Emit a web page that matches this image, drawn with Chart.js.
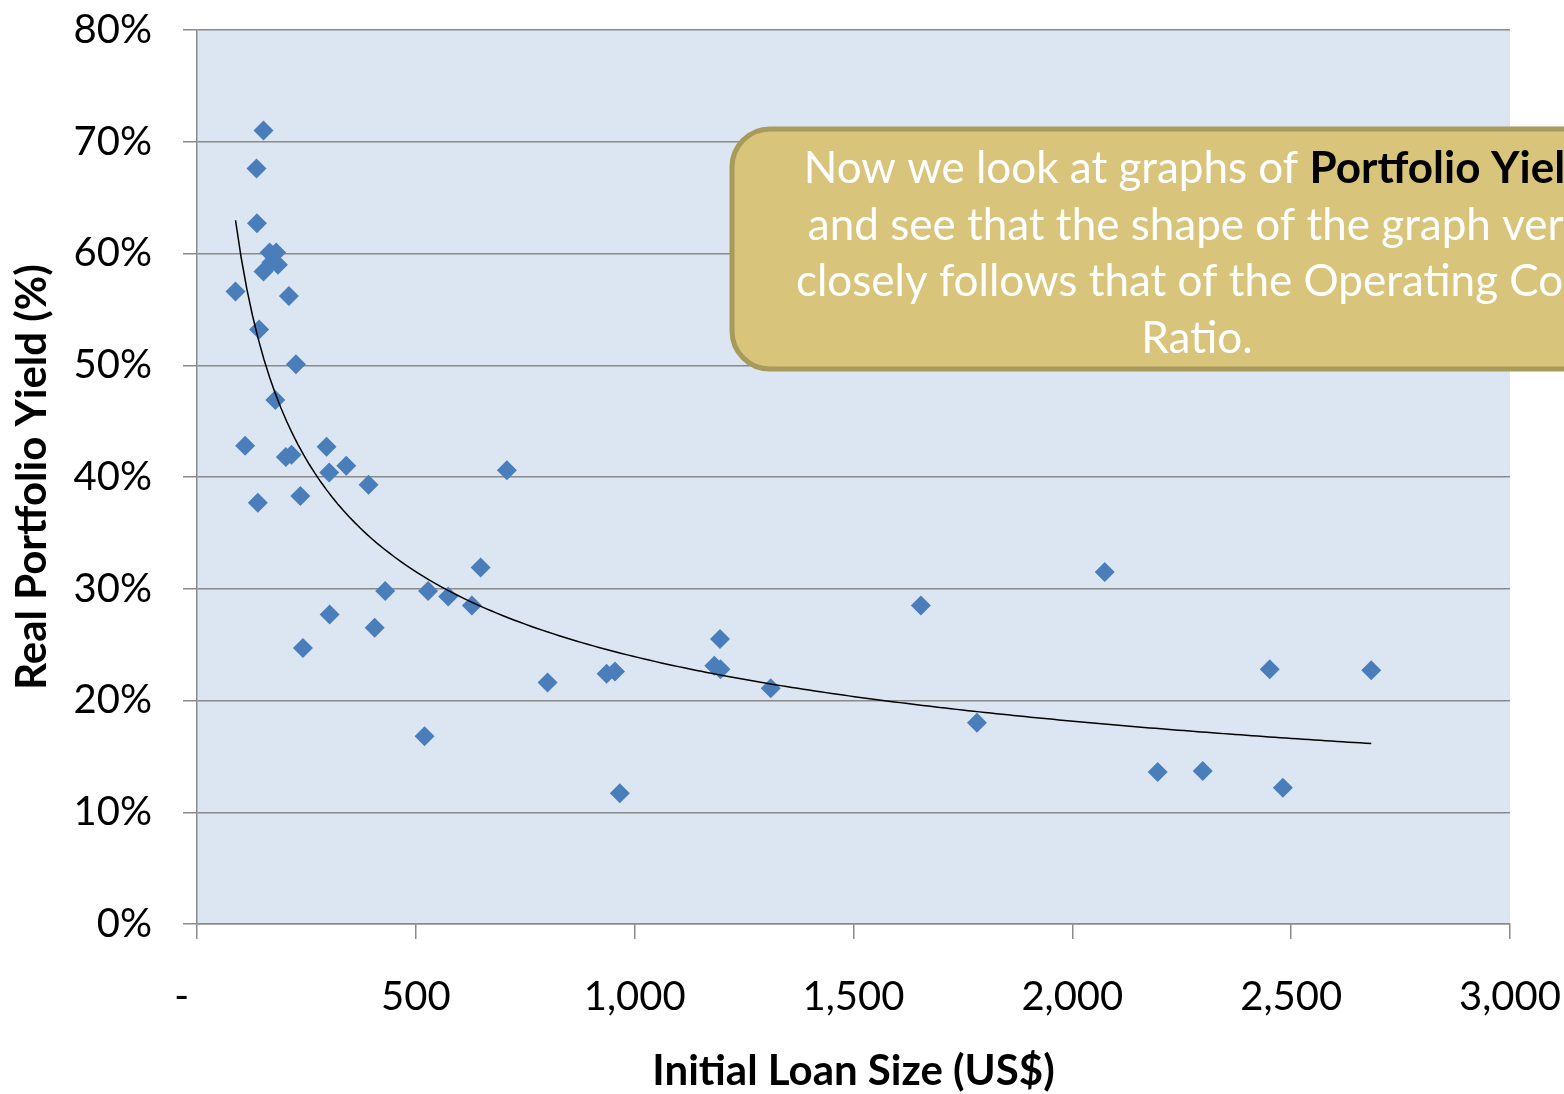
<!DOCTYPE html>
<html>
<head>
<meta charset="utf-8">
<script src="https://cdn.jsdelivr.net/npm/chart.js@4.4.1/dist/chart.umd.min.js"></script>
<style>
  html, body { margin: 0; padding: 0; background: #fff; }
  #wrap { width: 1564px; height: 1094px; }
</style>
</head>
<body>
<div id="wrap"><canvas id="myChart" width="1564" height="1094"></canvas></div>
<script>
// loan size (US$) and real portfolio yield (%)
const loanSize = [152,136,137,166,181,152,185,170,88,210,142,226,179,110,203,216,296,341,302,392,139,236,
                  708,648,430,528,574,628,303,406,242,801,936,955,1195,1182,1196,520,
                  966,1311,1654,1782,2074,2195,2298,2451,2481,2683];
const yieldPct = [71.0,67.6,62.7,60.1,60.1,58.4,59.0,59.2,56.6,56.2,53.2,50.1,46.9,42.8,41.8,42.0,42.7,41.0,40.4,39.3,37.7,38.3,
                  40.6,31.9,29.8,29.8,29.3,28.5,27.7,26.5,24.7,21.6,22.4,22.6,25.5,23.1,22.8,16.8,
                  11.7,21.1,28.5,18.0,31.5,13.6,13.7,22.8,12.2,22.7];
const xTicks = [0,500,1000,1500,2000,2500,3000];
const xTickLabels = ['-   ','500','1,000','1,500','2,000','2,500','3,000'];
const yTickLabels = ['0%','10%','20%','30%','40%','50%','60%','70%','80%'];

const calloutLines = [
  [['Now we look at graphs of ', false], ['Portfolio Yield', true]],
  [['and see that the shape of the graph very', false]],
  [['closely follows that of the Operating Cost', false]],
  [['Ratio.', false]]
];

const points = loanSize.map((x, i) => ({x: x, y: yieldPct[i]}));

// power trendline (least squares on ln-ln, like the spreadsheet one)
let sx = 0, sy = 0, sxx = 0, sxy = 0;
const n = loanSize.length;
loanSize.forEach((x, i) => {
  const lx = Math.log(x), ly = Math.log(yieldPct[i]);
  sx += lx; sy += ly; sxx += lx * lx; sxy += lx * ly;
});
const b = (n * sxy - sx * sy) / (n * sxx - sx * sx);
const a = Math.exp((sy - b * sx) / n);
const xMin = Math.min(...loanSize), xMax = Math.max(...loanSize);
const trend = [];
for (let k = 0; k <= 200; k++) {
  const x = xMin + (xMax - xMin) * k / 200;
  trend.push({x: x, y: a * Math.pow(x, b)});
}

const plotBg = {
  id: 'plotBg',
  beforeDraw(chart) {
    const {ctx, chartArea: c} = chart;
    ctx.save();
    ctx.fillStyle = '#dce6f2';
    ctx.fillRect(c.left, c.top, c.right - c.left, c.bottom - c.top);
    ctx.restore();
  }
};

const callout = {
  id: 'callout',
  afterDraw(chart) {
    const ctx = chart.ctx;
    const x = 732, y = 129, w = 930, h = 240, r = 38;
    ctx.save();
    ctx.beginPath();
    ctx.roundRect(x, y, w, h, r);
    ctx.fillStyle = '#d8c57b';
    ctx.fill();
    ctx.lineWidth = 5;
    ctx.strokeStyle = '#a89a5a';
    ctx.stroke();
    ctx.textBaseline = 'alphabetic';
    const cx = x + w / 2;
    const normal = '44px Lato', bold = 'bold 44px Lato';
    calloutLines.forEach((parts, i) => {
      let total = 0;
      parts.forEach(p => { ctx.font = p[1] ? bold : normal; total += ctx.measureText(p[0]).width; });
      let px = cx - total / 2;
      const by = 183 + i * 56.5;
      parts.forEach(p => {
        ctx.font = p[1] ? bold : normal;
        ctx.fillStyle = p[1] ? '#000' : '#fff';
        ctx.fillText(p[0], px, by);
        px += ctx.measureText(p[0]).width;
      });
    });
    ctx.restore();
  }
};

function noPad(scale) {
  scale.paddingTop = 0;
  scale.paddingBottom = 0;
  scale.paddingLeft = 0;
  scale.paddingRight = 0;
}

const ctx = document.getElementById('myChart').getContext('2d');
const chart = new Chart(ctx, {
  type: 'scatter',
  data: {
    datasets: [{
      data: points,
      pointStyle: 'rectRot',
      pointRadius: 10,
      backgroundColor: '#4a7ebb',
      borderColor: '#4a7ebb',
      borderWidth: 0,
      order: 2
    }, {
      data: trend,
      showLine: true,
      pointRadius: 0,
      borderColor: '#000',
      borderWidth: 1.5,
      fill: false,
      order: 1
    }]
  },
  options: {
    responsive: false,
    animation: false,
    layout: {padding: {top: 30, right: 54, left: 0, bottom: 0}},
    plugins: {legend: {display: false}, tooltip: {enabled: false}},
    scales: {
      x: {
        type: 'linear',
        min: 0, max: 3000,
        afterBuildTicks(scale) { scale.ticks = xTicks.map(v => ({value: v})); },
        afterFit(scale) { scale.height = 170; noPad(scale); },
        ticks: {
          callback: (v, i) => xTickLabels[i],
          font: {family: 'Lato', size: 40},
          color: '#000',
          padding: 34,
          maxRotation: 0
        },
        grid: {drawOnChartArea: false, drawTicks: true, tickLength: 15, color: '#8a8a8a', lineWidth: 1.5},
        border: {color: '#8a8a8a', width: 1.5},
        title: {
          display: true,
          text: 'Initial Loan Size (US$)',
          font: {family: 'Lato', size: 42, weight: 'bold'},
          color: '#000',
          padding: {top: 0, bottom: -3}
        }
      },
      y: {
        min: 0, max: 80,
        afterFit(scale) { scale.width = 197; noPad(scale); },
        ticks: {
          stepSize: 10,
          callback: (v) => yTickLabels[Math.round(v / 10)],
          font: {family: 'Lato', size: 40},
          color: '#000',
          padding: 31
        },
        grid: {color: '#8a8a8a', lineWidth: 1.5, tickLength: 14},
        border: {color: '#8a8a8a', width: 1.5},
        title: {
          display: true,
          text: 'Real Portfolio Yield (%)',
          font: {family: 'Lato', size: 42, weight: 'bold'},
          color: '#000',
          padding: {top: 7, bottom: 0}
        }
      }
    }
  },
  plugins: [plotBg, callout]
});
</script>
</body>
</html>
